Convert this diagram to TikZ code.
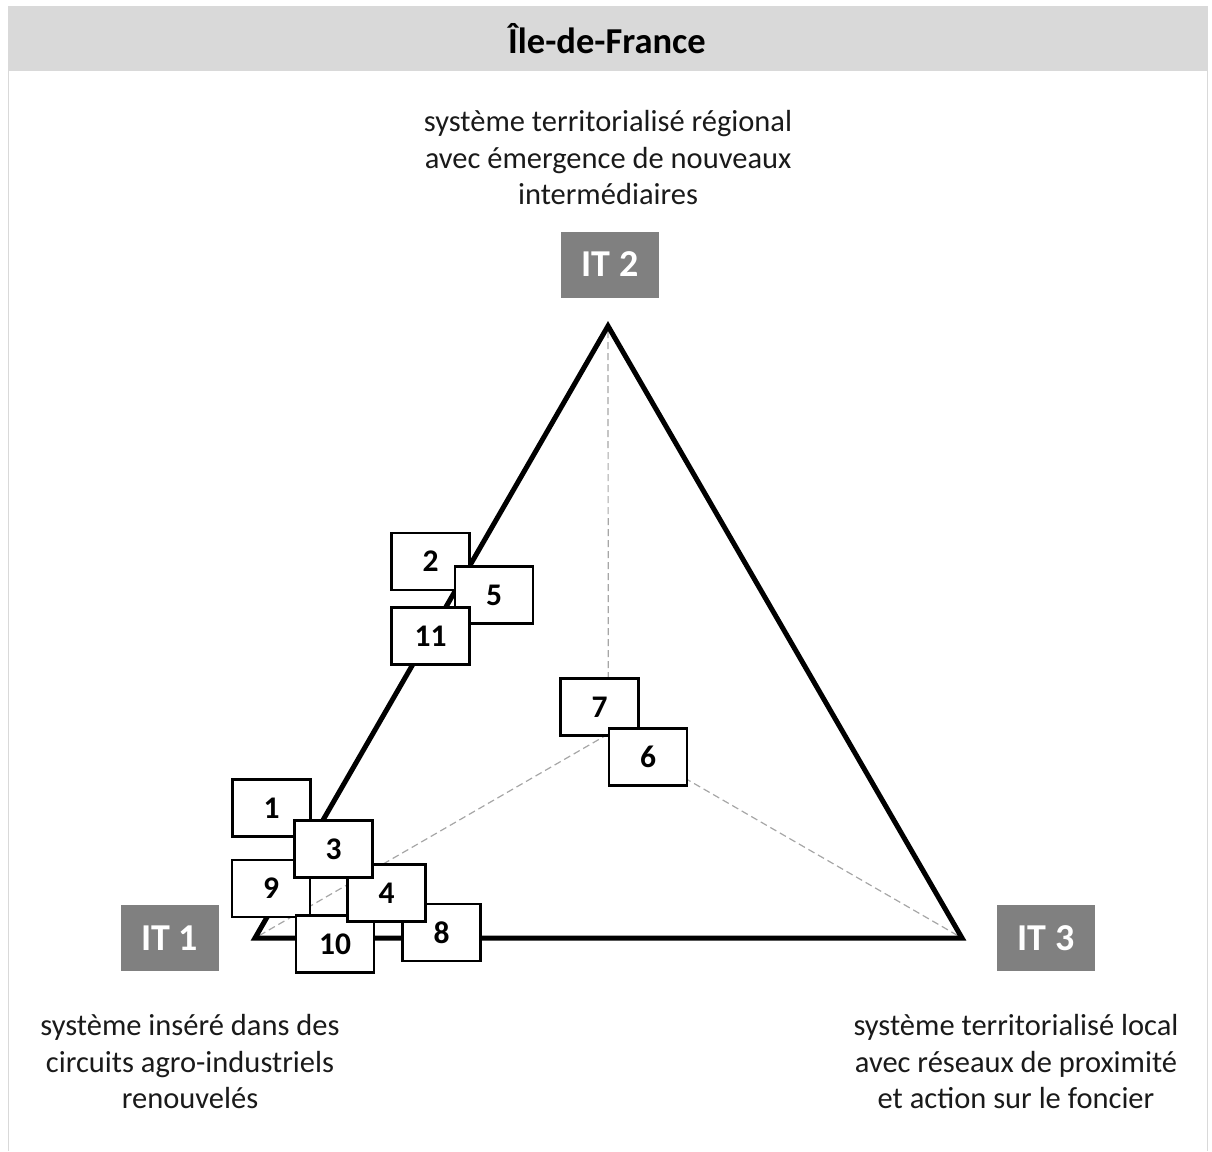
\documentclass[tikz,border=0pt]{standalone}
\usepackage{fontspec}
\setmainfont{Carlito}
\definecolor{hdr}{HTML}{D9D9D9}
\definecolor{itgray}{HTML}{808080}
\definecolor{dashgray}{HTML}{A6A6A6}
\definecolor{txt}{HTML}{1A1A1A}
\begin{document}
\begin{tikzpicture}[x=1pt,y=-1pt,
  numbox/.style={draw=black, line width=2.2pt, fill=white, minimum width=78pt, minimum height=57pt, inner sep=0pt, font=\fontsize{31.5}{36}\selectfont\bfseries},
  itbox/.style={fill=itgray, text=white, minimum width=98pt, minimum height=66pt, inner sep=0pt, font=\fontsize{38}{42}\selectfont\bfseries},
  desc/.style={align=center, inner sep=0pt, text=txt, font=\fontsize{30.5}{36.5}\selectfont},
  guide/.style={draw=dashgray, line width=1.2pt, dash pattern=on 7pt off 4pt},
  frameline/.style={draw=hdr, line width=1.5pt}]
\useasboundingbox (0,0) rectangle (1212,1151);
% frame and header
\fill[hdr] (8,6) rectangle (1208,71);
\draw[frameline] (8.5,71) -- (8.5,1151);
\draw[frameline] (1207.5,71) -- (1207.5,1151);
\node[font=\fontsize{36.5}{42}\selectfont\bfseries, text=black] (title) at (607,39) {Île-de-France};
% triangle
\coordinate (A) at (255,938);
\coordinate (B) at (608,326);
\coordinate (C) at (962,938);
\coordinate (G) at (608.3,734);
\draw[guide] (G) -- (A);
\draw[guide] (G) -- (B);
\draw[guide] (G) -- (C);
\draw[line width=5pt, line join=miter] (A) -- (B) -- (C) -- cycle;
% IT labels
\node[itbox] (it1) at (169.5,938) {IT 1};
\node[itbox] (it2) at (610,264.5) {IT 2};
\node[itbox] (it3) at (1046,938) {IT 3};
% descriptions
\node[desc] (d2) at (608,158) {système territorialisé régional\\avec émergence de nouveaux\\intermédiaires};
\node[desc] (d1) at (190,1062) {système inséré dans des\\circuits agro-industriels\\renouvelés};
\node[desc] (d3) at (1016,1062) {système territorialisé local\\avec réseaux de proximité\\et action sur le foncier};
% numbered boxes (drawing order = stacking order)
\node[numbox] (n1) at (271.5,808) {1};
\node[numbox] (n9) at (271,888.5) {9};
\node[numbox] (n10) at (335,944) {10};
\node[numbox] (n8) at (441.5,932.5) {8};
\node[numbox] (n4) at (386.5,893) {4};
\node[numbox] (n3) at (333.5,849) {3};
\node[numbox] (n2) at (430.5,561.5) {2};
\node[numbox] (n5) at (494,595) {5};
\node[numbox] (n11) at (430.5,636) {11};
\node[numbox] (n7) at (599.5,707) {7};
\node[numbox] (n6) at (648,757) {6};
\end{tikzpicture}
\end{document}
